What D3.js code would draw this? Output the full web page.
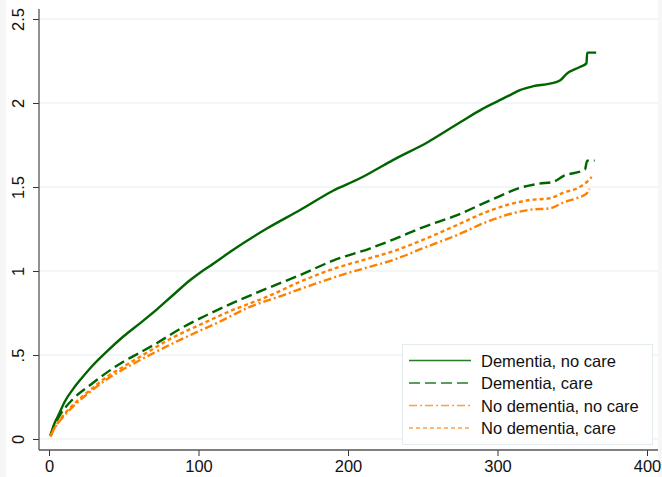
<!DOCTYPE html>
<html><head><meta charset="utf-8">
<script src="https://cdn.jsdelivr.net/npm/d3@7"></script>
<style>
html,body{margin:0;padding:0;background:#f6f6f6;}
svg{display:block;font-family:Arial,"Liberation Sans",Helvetica,sans-serif;}
</style></head>
<body>
<svg id="chart" width="662" height="477"></svg>
<script>
// ---- data ----
const seriesNames = ["Dementia, no care","Dementia, care","No dementia, no care","No dementia, care"];
const dementiaNoCare = [[1,0.02],[3.5,0.09],[6.2,0.14],[10.7,0.225],[16.3,0.30],[20.7,0.35],[27.4,0.42],[38.6,0.52],[49.7,0.61],[61,0.69],[72,0.77],[83,0.857],[94.3,0.945],[101,0.99],[107.7,1.03],[123,1.125],[146,1.254],[168,1.363],[190,1.478],[208,1.552],[215,1.585],[230,1.66],[253,1.765],[275,1.885],[290,1.965],[300,2.01],[308,2.045],[315,2.077],[324,2.10],[335,2.115],[342,2.135],[346,2.172],[355,2.214],[359.5,2.236],[360,2.30],[366,2.30]];
const dementiaCare = [[1,0.02],[3,0.07],[7.4,0.143],[16.3,0.24],[27.4,0.32],[38.6,0.395],[49.7,0.46],[61,0.515],[72,0.57],[87.6,0.655],[101,0.718],[123,0.81],[146,0.897],[168,0.976],[190,1.062],[215,1.135],[231,1.19],[250,1.26],[273,1.333],[295,1.42],[317,1.50],[328,1.52],[337,1.53],[344,1.565],[358.5,1.605],[360,1.657],[365,1.657]];
const noDementiaNoCare = [[1,0.015],[4,0.07],[7.4,0.11],[16.3,0.195],[27.4,0.28],[38.6,0.355],[49.7,0.415],[61,0.47],[83,0.57],[101,0.645],[112,0.689],[134,0.785],[157,0.857],[179,0.927],[197,0.98],[215,1.026],[231,1.068],[250,1.135],[273,1.214],[295,1.30],[322,1.365],[335,1.373],[344,1.408],[355,1.44],[359.5,1.46],[361.5,1.49]];
const noDementiaCare = [[1,0.015],[4,0.07],[7.4,0.115],[16.3,0.205],[27.4,0.29],[38.6,0.37],[49.7,0.43],[61,0.49],[83,0.605],[101,0.68],[123,0.768],[146,0.847],[168,0.936],[190,1.012],[212,1.07],[231,1.12],[250,1.185],[273,1.274],[295,1.36],[322,1.423],[335,1.433],[344,1.466],[355,1.50],[360,1.532],[363,1.56]];
const xTicks = [0,100,200,300,400];
const xTickLabels = ["0","100","200","300","400"];
const yTicks = [0,0.5,1,1.5,2,2.5];
const yTickLabels = ["0",".5","1","1.5","2","2.5"];

// ---- styles ----
const green = "#006400", orange = "#ff8000";
const styles = [
  {color:green, dash:null},
  {color:green, dash:"11,5"},
  {color:orange, dash:"8,3,2,3"},
  {color:orange, dash:"4,3"}
];
const allData = [dementiaNoCare, dementiaCare, noDementiaNoCare, noDementiaCare];

const svg = d3.select("#chart");
svg.append("rect").attr("x",6).attr("y",0).attr("width",652).attr("height",477).attr("fill","#ffffff");

const x = d3.scaleLinear().domain([0,400]).range([49,647]);
const y = d3.scaleLinear().domain([0,2.5]).range([439,19]);

const plotLeft = 39, plotRight = 658, plotTop = 9, plotBottom = 450;
const fontFam = "Arial, 'Liberation Sans', sans-serif";

// gridlines
svg.append("g").selectAll("line").data(yTicks).join("line")
  .attr("x1",plotLeft).attr("x2",plotRight)
  .attr("y1",d=>y(d)).attr("y2",d=>y(d))
  .attr("stroke","#e6eef0").attr("stroke-width",1.2);

// y axis
const yAxis = svg.append("g").attr("transform",`translate(${plotLeft},0)`)
  .call(d3.axisLeft(y).tickValues(yTicks).tickSize(6).tickSizeOuter(0)
    .tickFormat((d,i)=>yTickLabels[i]));
yAxis.select(".domain").remove();
yAxis.selectAll(".tick line").attr("stroke","#333").attr("stroke-width",1);
yAxis.selectAll(".tick text")
  .attr("x",null).attr("dy",null)
  .attr("transform","translate(-15,0) rotate(-90)")
  .attr("text-anchor","middle")
  .attr("font-size",16.5).attr("fill","#111")
  .attr("font-family",fontFam);

// x axis
const xAxis = svg.append("g").attr("transform",`translate(0,${plotBottom})`)
  .call(d3.axisBottom(x).tickValues(xTicks).tickSize(6).tickSizeOuter(0)
    .tickFormat((d,i)=>xTickLabels[i]));
xAxis.select(".domain").remove();
xAxis.selectAll(".tick line").attr("stroke","#333").attr("stroke-width",1);
xAxis.selectAll(".tick text").attr("y",22).attr("dy",null)
  .attr("font-size",16.5).attr("fill","#111")
  .attr("font-family",fontFam);

// axis lines
svg.append("line").attr("x1",plotLeft).attr("x2",plotLeft).attr("y1",plotTop).attr("y2",plotBottom)
  .attr("stroke","#555").attr("stroke-width",1.3);
svg.append("line").attr("x1",plotLeft).attr("x2",plotRight).attr("y1",plotBottom).attr("y2",plotBottom)
  .attr("stroke","#555").attr("stroke-width",1.3);

// lines
const line = d3.line().x(d=>x(d[0])).y(d=>y(d[1])).curve(d3.curveMonotoneX);
allData.forEach((data,i)=>{
  svg.append("path").datum(data)
    .attr("d",line).attr("fill","none")
    .attr("stroke",styles[i].color).attr("stroke-width",2.4)
    .attr("stroke-dasharray",styles[i].dash);
});

// legend
const lg = svg.append("g");
lg.append("rect").attr("x",402.5).attr("y",344.5).attr("width",250).attr("height",100)
  .attr("fill","#fff").attr("stroke","#e3ebee").attr("stroke-width",1);
const rowY = [360.5,383,405.5,428];
seriesNames.forEach((name,i)=>{
  lg.append("line").attr("x1",409).attr("x2",471).attr("y1",rowY[i]).attr("y2",rowY[i])
    .attr("stroke",styles[i].color).attr("stroke-width",1.4)
    .attr("stroke-opacity", i<2?0.85:0.75)
    .attr("stroke-dasharray",styles[i].dash);
  lg.append("text").attr("x",481).attr("y",rowY[i]+6).text(name)
    .attr("font-size",16.5).attr("fill","#111").attr("font-family",fontFam);
});
</script>
</body></html>
